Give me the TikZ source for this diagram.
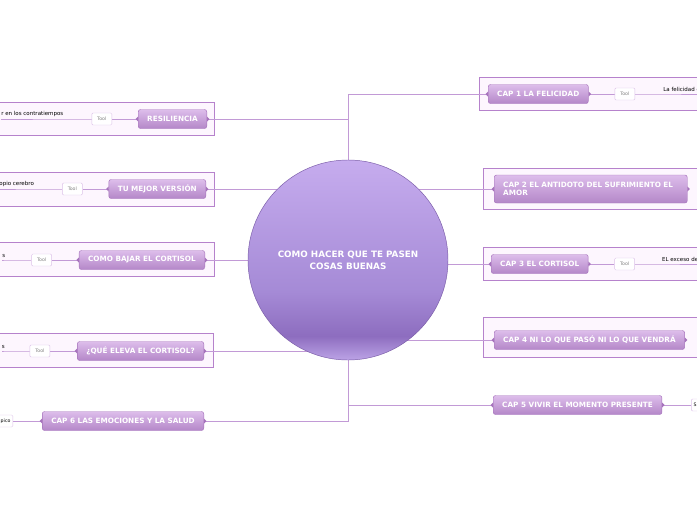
\documentclass[tikz,border=0pt]{standalone}
\usepackage{fontspec}
\setmainfont{DejaVu Sans}
\usetikzlibrary{positioning,calc,backgrounds}

\definecolor{linkc}{HTML}{C29AD6}
\definecolor{framec}{HTML}{B682CC}
\definecolor{framebg}{HTML}{FDF6FE}
\definecolor{boxtop}{HTML}{DDBDEB}
\definecolor{boxbot}{HTML}{B487C8}
\definecolor{boxedge}{HTML}{A673BC}
\definecolor{toolc}{HTML}{DDC3E9}
\definecolor{hubT}{HTML}{C6ACEE}
\definecolor{hubM}{HTML}{A58AD6}
\definecolor{hubD}{HTML}{8D6DBF}
\definecolor{hubB}{HTML}{BCA3E6}
\definecolor{hubedge}{HTML}{7A5CA8}

\pgfdeclareverticalshading{hubshade}{100bp}{color(0bp)=(hubB); color(25bp)=(hubB); color(31bp)=(hubD); color(42bp)=(hubM); color(75bp)=(hubT); color(100bp)=(hubT)}

\begin{document}
\begin{tikzpicture}[
    x=0.03cm, y=-0.03cm,
    node distance=0.78cm,
    topic/.style={rectangle, draw=boxedge, rounded corners=2pt, top color=boxtop, bottom color=boxbot, text=white, font=\bfseries\fontsize{6.2}{7.4}\selectfont, minimum height=0.57cm, inner xsep=0.27cm},
    tool/.style={rectangle, draw=toolc, fill=white, rounded corners=1pt, font=\fontsize{4}{5}\selectfont, text=gray, minimum width=0.6cm, minimum height=0.36cm, inner sep=0pt},
    endbox/.style={rectangle, draw=toolc, fill=white, rounded corners=1pt, font=\fontsize{4}{5}\selectfont, minimum height=0.36cm, inner xsep=2pt, inner ysep=0pt},
    note/.style={font=\fontsize{4.7}{5.6}\selectfont, inner xsep=0pt, inner ysep=2pt},
    link/.style={draw=linkc, line width=0.6pt},
    frame/.style={draw=framec, fill=framebg, line width=0.6pt},
    hub/.style={circle, draw=hubedge, shade, shading=hubshade, minimum size=6cm, text=white, font=\bfseries\fontsize{7.5}{10.2}\selectfont, align=center}
  ]
  \useasboundingbox (0,0) rectangle (697,520);

  % central topic
  \node[hub] (hub) at (348,260) {COMO HACER QUE TE PASEN\\ COSAS BUENAS};

  % right side
  \node[topic, anchor=west] (cap1) at (488,94) {CAP 1 LA FELICIDAD};
  \node[topic, anchor=west, text width=5.25cm, align=left, minimum height=0.84cm] (cap2) at (494,189) {CAP 2 EL ANTIDOTO DEL SUFRIMIENTO EL AMOR};
  \node[topic, anchor=west] (cap3) at (491,264) {CAP 3 EL CORTISOL};
  \node[topic, anchor=west] (cap4) at (494,340) {CAP 4 NI LO QUE PASÓ NI LO QUE VENDRÁ};
  \node[topic, anchor=west] (cap5) at (493,405) {CAP 5 VIVIR EL MOMENTO PRESENTE};

  % left side
  \node[topic, anchor=east] (resil) at (207,119) {RESILIENCIA};
  \node[topic, anchor=east] (mejor) at (206,189) {TU MEJOR VERSIÓN};
  \node[topic, anchor=east] (bajar) at (205,260) {COMO BAJAR EL CORTISOL};
  \node[topic, anchor=east] (eleva) at (204,351) {¿QUÉ ELEVA EL CORTISOL?};
  \node[topic, anchor=east] (cap6) at (204,421) {CAP 6 LAS EMOCIONES Y LA SALUD};

  % tools and notes
  \node[tool, right=of cap1] (t-cap1) {Tool};
  \node[tool, right=of cap3] (t-cap3) {Tool};
  \node[tool, left=of resil] (t-resil) {Tool};
  \node[tool, left=of mejor] (t-mejor) {Tool};
  \node[tool, left=0.81cm of bajar] (t-bajar) {Tool};
  \node[tool, left=0.81cm of eleva] (t-eleva) {Tool};
  \node[note, right=0.84cm of t-cap1.east, anchor=south west] (n-cap1) {La felicidad e};
  \node[note, right=0.81cm of t-cap3.east, anchor=south west] (n-cap3) {EL exceso de};
  \node[note, left=0.84cm of t-resil.west, anchor=south east] (n-resil) {r en los contratiempos};
  \node[note, left=0.84cm of t-mejor.west, anchor=south east] (n-mejor) {ropio cerebro};
  \node[note, left=0.78cm of t-bajar.west, anchor=south east] (n-bajar) {s};
  \node[note, left=0.74cm of t-eleva.west, anchor=south east] (n-eleva) {s};
  \node[endbox, right=0.87cm of cap5, anchor=west] (e-cap5) {S};
  \node[endbox, left=0.87cm of cap6, anchor=east] (e-cap6) {pico};

  % little tabs on the topics
  \foreach \b in {cap1,cap2,cap3,cap4,cap5,resil,mejor,bajar,eleva,cap6} {
    \fill[boxedge] (\b.east) ++(0,-2.5) -- ++(2.5,2.5) -- ++(-2.5,2.5) -- cycle;
    \fill[boxedge] (\b.west) ++(0,-2.5) -- ++(-2.5,2.5) -- ++(2.5,2.5) -- cycle;
  }

  \begin{scope}[on background layer]
    % frames
    \draw[frame] (479,77) rectangle (710,110);
    \draw[frame] (483,168) rectangle (710,209);
    \draw[frame] (483,247) rectangle (710,280);
    \draw[frame] (483,317) rectangle (710,357);
    \draw[frame] (-10,102) rectangle (214,135);
    \draw[frame] (-10,172) rectangle (214,206);
    \draw[frame] (-10,242) rectangle (214,276);
    \draw[frame] (-10,333) rectangle (213,367);
    % branches
    \draw[link] (hub.north) |- (cap1.west);
    \draw[link] (hub.north |- resil.east) -- (resil.east);
    \draw[link] (hub.center |- cap2.west) -- (cap2.west);
    \draw[link] (hub.center |- mejor.east) -- (mejor.east);
    \draw[link] (hub.center |- cap3.west) -- (cap3.west);
    \draw[link] (hub.center |- bajar.east) -- (bajar.east);
    \draw[link] (hub.center |- cap4.west) -- (cap4.west);
    \draw[link] (hub.center |- eleva.east) -- (eleva.east);
    \draw[link] (hub.south) |- (cap5.west);
    \draw[link] (hub.south) |- (cap6.east);
    % sub branches
    \draw[link] (cap1.east) -- (t-cap1.west);
    \draw[link] (t-cap1.east) -- (n-cap1.south west) -- (n-cap1.south east);
    \draw[link] (cap3.east) -- (t-cap3.west);
    \draw[link] (t-cap3.east) -- (n-cap3.south west) -- (n-cap3.south east);
    \draw[link] (resil.west) -- (t-resil.east);
    \draw[link] (t-resil.west) -- (n-resil.south east) -- (n-resil.south west);
    \draw[link] (mejor.west) -- (t-mejor.east);
    \draw[link] (t-mejor.west) -- (n-mejor.south east) -- (n-mejor.south west);
    \draw[link] (bajar.west) -- (t-bajar.east);
    \draw[link] (t-bajar.west) -- (n-bajar.south east) -- (n-bajar.south west);
    \draw[link] (eleva.west) -- (t-eleva.east);
    \draw[link] (t-eleva.west) -- (n-eleva.south east) -- (n-eleva.south west);
    \draw[link] (cap5.east) -- (e-cap5.west);
    \draw[link] (cap6.west) -- (e-cap6.east);
  \end{scope}
\end{tikzpicture}
\end{document}
